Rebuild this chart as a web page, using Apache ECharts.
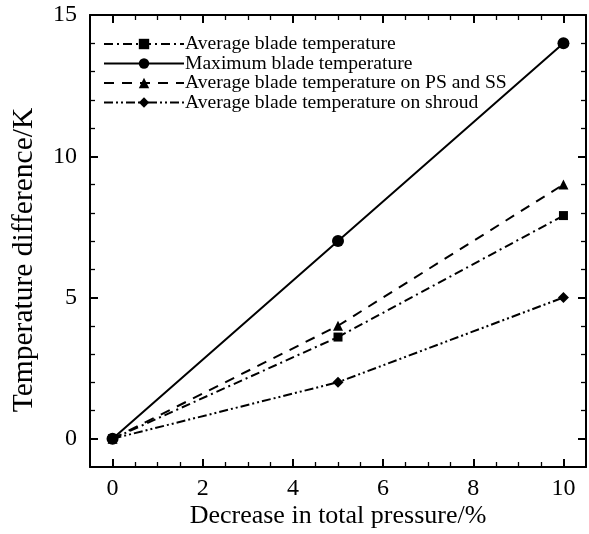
<!DOCTYPE html>
<html><head><meta charset="utf-8">
<script src="https://cdn.jsdelivr.net/npm/echarts@6/dist/echarts.min.js"></script>
<style>html,body{margin:0;padding:0;background:#fff}#c{width:589px;height:534px}</style>
</head><body><div id="c"></div>
<script>
const xValues = [0, 5, 10];
const avgBlade = [0, 3.6, 7.9];
const maxBlade = [0, 7, 14];
const avgPSSS = [0, 4, 9];
const avgShroud = [0, 2, 5];
const seriesNames = ['Average blade temperature','Maximum blade temperature','Average blade temperature on PS and SS','Average blade temperature on shroud'];
const xMajorTicks = [0, 2, 4, 6, 8, 10];
const yMajorTicks = [0, 5, 10, 15];
const xMinorTicks = [0.5, 1, 1.5, 2.5, 3, 3.5, 4.5, 5, 5.5, 6.5, 7, 7.5, 8.5, 9, 9.5];
const yMinorTicks = [1, 2, 3, 4, 6, 7, 8, 9, 11, 12, 13, 14];
const xName = 'Decrease in total pressure/%';
const yName = 'Temperature difference/K';

const FONT = '"Liberation Serif","Times New Roman",serif';
const pairs = arr => xValues.map((x,i)=>[x, arr[i]]);
function mk(name, data, symbol, size, dash){
  return {name, type:'line', data:pairs(data), symbol, symbolSize:size,
    itemStyle:{color:'#000'}, lineStyle:{color:'#000', width:2, type:dash}, z:3, animation:false};
}
const XR = {min:-0.5, max:10.5};
const YR = {min:-1, max:15};
function axis(kind, pos, opts){
  const r = kind==='x' ? XR : YR;
  return Object.assign({type:'value', position:pos, min:r.min, max:r.max,
    axisLine:{show:true, onZero:false, lineStyle:{color:'#000', width:2}},
    axisLabel:{show:false},
    splitLine:{show:false},
    minorTick:{show:false},
    nameMoveOverlap:false
  }, opts);
}
function ticks(vals, len, w){
  return {show:true, inside:true, length:len, lineStyle:{color:'#000', width:w}, customValues:vals};
}
const chart = echarts.init(document.getElementById('c'));
chart.setOption({
  animation:false,
  backgroundColor:'#fff',
  grid:{left:90, top:15, right:3, bottom:67},
  legend:{
    left:103, top:34, padding:0, orient:'vertical', itemWidth:80, itemHeight:13, itemGap:-0.5,
    textStyle:{fontFamily:FONT, fontSize:19.6, lineHeight:18, color:'#000', padding:[0,0,0,-4]},
    data:seriesNames
  },
  xAxis:[
    axis('x','bottom',{
      name:xName, nameLocation:'middle', nameGap:36,
      nameTextStyle:{fontFamily:FONT, fontSize:26, color:'#000'},
      axisLabel:{show:true, fontFamily:FONT, fontSize:24, color:'#000', margin:10, customValues:xMajorTicks},
      axisTick:ticks(xMajorTicks, 8, 2)
    }),
    axis('x','top',{axisTick:ticks(xMajorTicks, 8, 2)}),
    axis('x','bottom',{axisLine:{show:false, onZero:false}, axisTick:ticks(xMinorTicks, 5, 1.3)}),
    axis('x','top',{axisLine:{show:false, onZero:false}, axisTick:ticks(xMinorTicks, 5, 1.3)})
  ],
  yAxis:[
    axis('y','left',{
      name:yName, nameLocation:'middle', nameGap:51,
      nameTextStyle:{fontFamily:FONT, fontSize:29.5, color:'#000', padding:[0,38,0,0]},
      axisLabel:{show:true, fontFamily:FONT, fontSize:24, color:'#000', margin:13, customValues:yMajorTicks},
      axisTick:ticks(yMajorTicks, 8, 2)
    }),
    axis('y','right',{axisTick:ticks(yMajorTicks, 8, 2)}),
    axis('y','left',{axisLine:{show:false, onZero:false}, axisTick:ticks(yMinorTicks, 5, 1.3)}),
    axis('y','right',{axisLine:{show:false, onZero:false}, axisTick:ticks(yMinorTicks, 5, 1.3)})
  ],
  series:[
    mk(seriesNames[0], avgBlade, 'rect', 9, [9,4,2,4]),
    mk(seriesNames[1], maxBlade, 'circle', 12, 'solid'),
    mk(seriesNames[2], avgPSSS, 'triangle', 10, [10,8]),
    mk(seriesNames[3], avgShroud, 'diamond', 11, [9,3,2,3,2,3])
  ]
});
</script></body></html>
